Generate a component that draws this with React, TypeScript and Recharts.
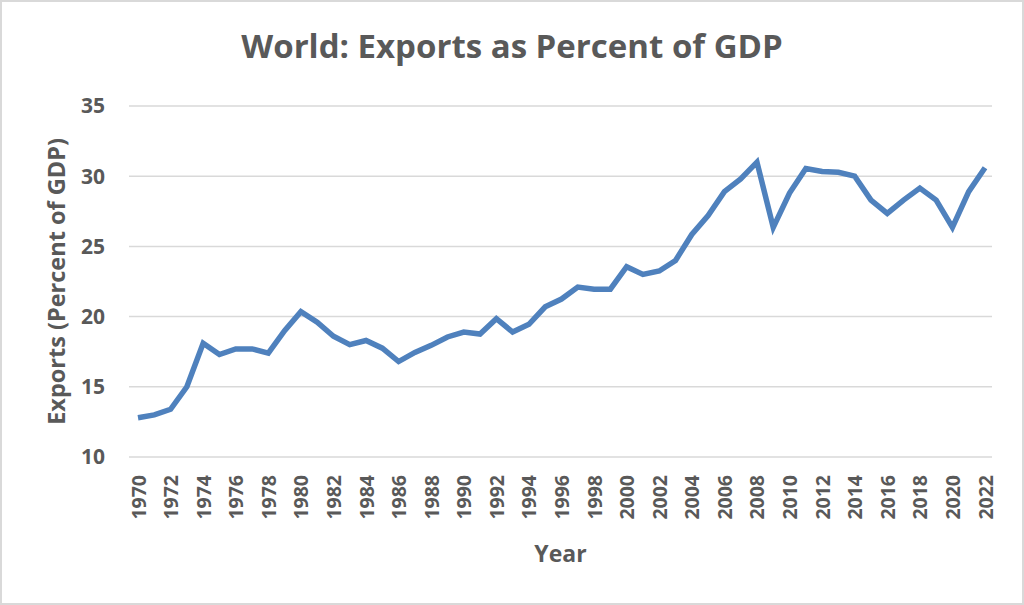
import React from 'react';
import { LineChart, Line, XAxis, YAxis, CartesianGrid } from 'recharts';

const years: number[] = [
  1970, 1971, 1972, 1973, 1974, 1975, 1976, 1977, 1978, 1979,
  1980, 1981, 1982, 1983, 1984, 1985, 1986, 1987, 1988, 1989,
  1990, 1991, 1992, 1993, 1994, 1995, 1996, 1997, 1998, 1999,
  2000, 2001, 2002, 2003, 2004, 2005, 2006, 2007, 2008, 2009,
  2010, 2011, 2012, 2013, 2014, 2015, 2016, 2017, 2018, 2019,
  2020, 2021, 2022,
];

const exportsPct: number[] = [
  12.8, 13.0, 13.4, 15.0, 18.1, 17.3, 17.7, 17.7, 17.4, 19.0,
  20.35, 19.6, 18.6, 18.0, 18.3, 17.75, 16.8, 17.45, 17.95, 18.55,
  18.9, 18.76, 19.85, 18.9, 19.45, 20.7, 21.25, 22.1, 21.95, 21.95,
  23.55, 23.0, 23.25, 24.0, 25.85, 27.2, 28.9, 29.8, 31.0, 26.35,
  28.8, 30.55, 30.33, 30.28, 30.0, 28.3, 27.35, 28.3, 29.15, 28.3,
  26.35, 28.9, 30.6,
];

const yTicks: number[] = [10, 15, 20, 25, 30, 35];

const data = years.map((year, i) => ({ year: String(year), value: exportsPct[i] }));

const FONT = '"Open Sans", sans-serif';
const GREY = '#595959';

const XTick = (props: any) => {
  const { x, y, payload } = props;
  return (
    <text
      x={x}
      y={y}
      transform={`rotate(-90, ${x}, ${y})`}
      textAnchor="end"
      dominantBaseline="central"
      fill={GREY}
      fontFamily={FONT}
      fontWeight={700}
      fontSize={19.5}
    >
      {payload.value}
    </text>
  );
};

const App: React.FC = () => {
  return (
    <div style={{ position: 'absolute', left: 0, top: 0, width: 1024, height: 605 }}>
      <div
        style={{
          position: 'absolute',
          left: 0,
          top: 0,
          width: 1020,
          height: 601,
          border: '2px solid #d9d9d9',
          background: '#fff',
        }}
      />
      <div
        style={{
          position: 'absolute',
          left: 0,
          top: 22,
          width: 1024,
          textAlign: 'center',
          fontFamily: FONT,
          fontWeight: 700,
          fontSize: 33,
          lineHeight: '48px',
          color: GREY,
        }}
      >
        World: Exports as Percent of GDP
      </div>
      <div style={{ position: 'absolute', left: 0, top: 0 }}>
        <LineChart
          width={1024}
          height={605}
          data={data}
          margin={{ top: 106, right: 32, bottom: 0, left: 0 }}
        >
          <CartesianGrid vertical={false} stroke="#d9d9d9" strokeWidth={1.5} />
          <XAxis
            dataKey="year"
            interval={1}
            height={148}
            axisLine={false}
            tickLine={false}
            tickSize={0}
            tickMargin={18}
            padding={{ left: 9, right: 7 }}
            tick={<XTick />}
            label={{
              value: 'Year',
              position: 'insideBottom',
              offset: 43,
              fill: GREY,
              fontFamily: FONT,
              fontWeight: 700,
              fontSize: 23,
            }}
          />
          <YAxis
            width={129}
            domain={[10, 35]}
            ticks={yTicks}
            axisLine={false}
            tickLine={false}
            tickSize={0}
            tickMargin={24}
            tick={{ fill: GREY, fontFamily: FONT, fontWeight: 700, fontSize: 21 }}
            label={{
              value: 'Exports (Percent of GDP)',
              angle: -90,
              position: 'insideLeft',
              offset: 57,
              style: { textAnchor: 'middle' },
              fill: GREY,
              fontFamily: FONT,
              fontWeight: 700,
              fontSize: 23.5,
            }}
          />
          <Line
            type="linear"
            dataKey="value"
            stroke="#4f81bd"
            strokeWidth={5.5}
            dot={false}
            isAnimationActive={false}
          />
        </LineChart>
      </div>
    </div>
  );
};

export default App;
